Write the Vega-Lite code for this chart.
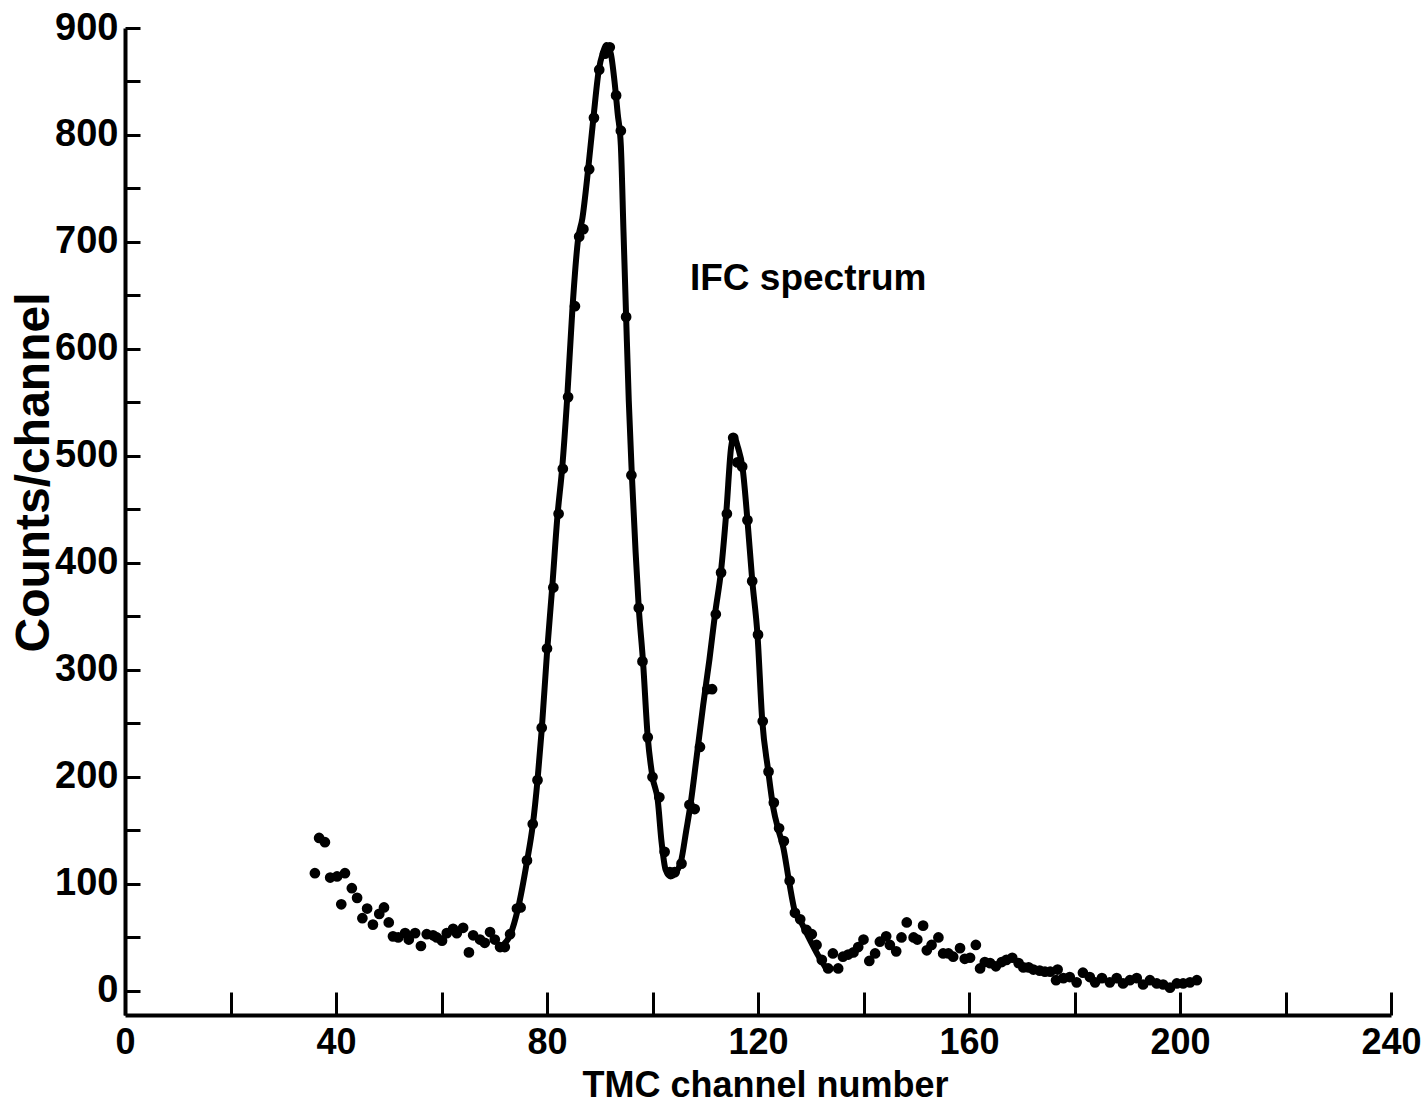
{
  "$schema": "https://vega.github.io/schema/vega-lite/v6.json",
  "width": 1266,
  "height": 987,
  "autosize": {"type": "none"},
  "padding": {"left": 125, "top": 28, "right": 36, "bottom": 89},
  "background": "white",
  "config": {
    "view": {"stroke": null},
    "axis": {
      "grid": false,
      "domainColor": "black",
      "domainWidth": 4,
      "tickColor": "black",
      "tickWidth": 3,
      "labelColor": "black",
      "titleColor": "black",
      "labelFont": "Liberation Sans",
      "titleFont": "Liberation Sans",
      "labelFontWeight": "bold",
      "titleFontWeight": "bold",
      "labelFlush": false,
      "labelOverlap": false
    }
  },
  "datasets": {
    "points": [
      {"channel": 36.0, "counts": 110}, {"channel": 36.8, "counts": 143}, {"channel": 37.9, "counts": 139}, {"channel": 38.9, "counts": 106},
      {"channel": 40.2, "counts": 107}, {"channel": 41.0, "counts": 81}, {"channel": 41.7, "counts": 110}, {"channel": 43.0, "counts": 96},
      {"channel": 44.0, "counts": 87}, {"channel": 45.0, "counts": 68}, {"channel": 45.9, "counts": 77}, {"channel": 47.0, "counts": 62},
      {"channel": 48.2, "counts": 72}, {"channel": 49.1, "counts": 78}, {"channel": 50.0, "counts": 64}, {"channel": 50.8, "counts": 51},
      {"channel": 51.8, "counts": 50}, {"channel": 53.1, "counts": 54}, {"channel": 53.8, "counts": 48}, {"channel": 55.0, "counts": 54},
      {"channel": 56.1, "counts": 42}, {"channel": 57.2, "counts": 53}, {"channel": 58.4, "counts": 52}, {"channel": 59.1, "counts": 50},
      {"channel": 60.1, "counts": 47}, {"channel": 61.0, "counts": 54}, {"channel": 62.2, "counts": 58}, {"channel": 62.9, "counts": 54},
      {"channel": 64.1, "counts": 59}, {"channel": 65.2, "counts": 36}, {"channel": 66.0, "counts": 52}, {"channel": 67.3, "counts": 48},
      {"channel": 68.2, "counts": 45}, {"channel": 69.2, "counts": 55}, {"channel": 70.1, "counts": 48}, {"channel": 71.1, "counts": 41},
      {"channel": 72.0, "counts": 41}, {"channel": 73.0, "counts": 53}, {"channel": 74.3, "counts": 77}, {"channel": 75.0, "counts": 78},
      {"channel": 76.2, "counts": 122}, {"channel": 77.3, "counts": 156}, {"channel": 78.2, "counts": 197}, {"channel": 79.0, "counts": 246},
      {"channel": 80.0, "counts": 320}, {"channel": 81.2, "counts": 377}, {"channel": 82.2, "counts": 446}, {"channel": 83.0, "counts": 488},
      {"channel": 84.0, "counts": 555}, {"channel": 85.3, "counts": 640}, {"channel": 86.1, "counts": 705}, {"channel": 86.9, "counts": 712},
      {"channel": 88.0, "counts": 768}, {"channel": 88.9, "counts": 816}, {"channel": 89.9, "counts": 861}, {"channel": 91.0, "counts": 876},
      {"channel": 91.9, "counts": 882}, {"channel": 93.1, "counts": 837}, {"channel": 94.0, "counts": 804}, {"channel": 95.0, "counts": 630},
      {"channel": 96.0, "counts": 482}, {"channel": 97.4, "counts": 358}, {"channel": 98.1, "counts": 308}, {"channel": 99.1, "counts": 237},
      {"channel": 100.0, "counts": 200}, {"channel": 101.3, "counts": 181}, {"channel": 102.3, "counts": 130}, {"channel": 103.3, "counts": 111},
      {"channel": 104.2, "counts": 111}, {"channel": 105.5, "counts": 119}, {"channel": 107.0, "counts": 174}, {"channel": 108.0, "counts": 170},
      {"channel": 109.0, "counts": 228}, {"channel": 110.4, "counts": 282}, {"channel": 111.3, "counts": 282}, {"channel": 112.0, "counts": 352},
      {"channel": 113.0, "counts": 391}, {"channel": 114.1, "counts": 446}, {"channel": 115.3, "counts": 517}, {"channel": 116.1, "counts": 494},
      {"channel": 117.0, "counts": 490}, {"channel": 118.0, "counts": 440}, {"channel": 118.9, "counts": 383}, {"channel": 120.0, "counts": 333},
      {"channel": 120.9, "counts": 252}, {"channel": 122.0, "counts": 205}, {"channel": 123.0, "counts": 176}, {"channel": 124.0, "counts": 152},
      {"channel": 124.9, "counts": 140}, {"channel": 126.0, "counts": 103}, {"channel": 127.0, "counts": 73}, {"channel": 128.0, "counts": 67},
      {"channel": 129.2, "counts": 57}, {"channel": 130.2, "counts": 53}, {"channel": 131.1, "counts": 43}, {"channel": 132.1, "counts": 29},
      {"channel": 133.3, "counts": 21}, {"channel": 134.2, "counts": 35}, {"channel": 135.2, "counts": 21}, {"channel": 136.1, "counts": 32},
      {"channel": 137.1, "counts": 34}, {"channel": 138.1, "counts": 36}, {"channel": 139.0, "counts": 41}, {"channel": 140.0, "counts": 48},
      {"channel": 141.1, "counts": 28}, {"channel": 142.2, "counts": 35}, {"channel": 143.1, "counts": 46}, {"channel": 144.3, "counts": 51},
      {"channel": 145.0, "counts": 43}, {"channel": 146.2, "counts": 37}, {"channel": 147.2, "counts": 50}, {"channel": 148.2, "counts": 64},
      {"channel": 149.5, "counts": 50}, {"channel": 150.2, "counts": 48}, {"channel": 151.3, "counts": 61}, {"channel": 152.0, "counts": 38},
      {"channel": 152.9, "counts": 43}, {"channel": 154.2, "counts": 50}, {"channel": 155.1, "counts": 35}, {"channel": 156.1, "counts": 35},
      {"channel": 157.0, "counts": 32}, {"channel": 158.3, "counts": 40}, {"channel": 159.2, "counts": 30}, {"channel": 160.2, "counts": 31},
      {"channel": 161.3, "counts": 43}, {"channel": 162.1, "counts": 21}, {"channel": 163.0, "counts": 27}, {"channel": 164.0, "counts": 26},
      {"channel": 165.1, "counts": 23}, {"channel": 166.2, "counts": 27}, {"channel": 167.1, "counts": 29}, {"channel": 168.2, "counts": 31},
      {"channel": 169.4, "counts": 26}, {"channel": 170.3, "counts": 22}, {"channel": 171.3, "counts": 22}, {"channel": 172.2, "counts": 20},
      {"channel": 173.4, "counts": 19}, {"channel": 174.4, "counts": 18}, {"channel": 175.4, "counts": 18}, {"channel": 176.5, "counts": 10},
      {"channel": 176.8, "counts": 20}, {"channel": 177.9, "counts": 12}, {"channel": 179.1, "counts": 13}, {"channel": 180.4, "counts": 8},
      {"channel": 181.6, "counts": 17}, {"channel": 182.9, "counts": 13}, {"channel": 183.9, "counts": 8}, {"channel": 185.2, "counts": 12},
      {"channel": 186.7, "counts": 8}, {"channel": 188.0, "counts": 12}, {"channel": 189.2, "counts": 7}, {"channel": 190.5, "counts": 10},
      {"channel": 191.8, "counts": 12}, {"channel": 193.0, "counts": 6}, {"channel": 194.3, "counts": 10}, {"channel": 195.6, "counts": 7},
      {"channel": 196.8, "counts": 6}, {"channel": 198.1, "counts": 3}, {"channel": 199.4, "counts": 7}, {"channel": 200.6, "counts": 7},
      {"channel": 201.9, "counts": 8}, {"channel": 203.2, "counts": 10}
    ],
    "curve": [
      {"channel": 71.7, "counts": 43}, {"channel": 73.0, "counts": 52}, {"channel": 74.5, "counts": 77}, {"channel": 76.2, "counts": 121},
      {"channel": 77.3, "counts": 155}, {"channel": 78.2, "counts": 197}, {"channel": 79.0, "counts": 244}, {"channel": 80.0, "counts": 316},
      {"channel": 81.0, "counts": 378}, {"channel": 82.0, "counts": 445}, {"channel": 82.9, "counts": 490}, {"channel": 83.8, "counts": 552},
      {"channel": 84.8, "counts": 636}, {"channel": 85.9, "counts": 703}, {"channel": 86.7, "counts": 722}, {"channel": 87.8, "counts": 768},
      {"channel": 88.8, "counts": 816}, {"channel": 89.8, "counts": 860}, {"channel": 90.6, "counts": 877}, {"channel": 91.3, "counts": 884},
      {"channel": 92.1, "counts": 876}, {"channel": 92.8, "counts": 850}, {"channel": 93.4, "counts": 820}, {"channel": 94.0, "counts": 790},
      {"channel": 94.5, "counts": 710}, {"channel": 95.0, "counts": 630}, {"channel": 95.5, "counts": 552}, {"channel": 96.1, "counts": 481},
      {"channel": 96.8, "counts": 410}, {"channel": 97.4, "counts": 358}, {"channel": 98.2, "counts": 308}, {"channel": 99.1, "counts": 237},
      {"channel": 100.0, "counts": 200}, {"channel": 101.0, "counts": 178}, {"channel": 101.7, "counts": 140}, {"channel": 102.5, "counts": 113},
      {"channel": 103.4, "counts": 107}, {"channel": 104.5, "counts": 111}, {"channel": 105.4, "counts": 121}, {"channel": 106.4, "counts": 150},
      {"channel": 107.2, "counts": 174}, {"channel": 108.3, "counts": 216}, {"channel": 109.6, "counts": 267}, {"channel": 110.8, "counts": 310},
      {"channel": 111.9, "counts": 354}, {"channel": 113.0, "counts": 393}, {"channel": 114.0, "counts": 448}, {"channel": 114.9, "counts": 508},
      {"channel": 115.4, "counts": 518}, {"channel": 116.2, "counts": 508}, {"channel": 117.1, "counts": 488}, {"channel": 118.0, "counts": 440},
      {"channel": 118.9, "counts": 384}, {"channel": 119.9, "counts": 333}, {"channel": 120.8, "counts": 253}, {"channel": 121.9, "counts": 207},
      {"channel": 122.9, "counts": 171}, {"channel": 123.9, "counts": 150}, {"channel": 124.8, "counts": 134}, {"channel": 125.9, "counts": 102},
      {"channel": 127.0, "counts": 74}, {"channel": 128.2, "counts": 64}, {"channel": 129.7, "counts": 49}, {"channel": 131.3, "counts": 34},
      {"channel": 132.8, "counts": 22}
    ],
    "note": [
      {"channel": 107.1, "counts": 655, "label": "IFC spectrum"}
    ]
  },
  "encoding": {
    "x": {
      "field": "channel",
      "type": "quantitative",
      "scale": {"domain": [0, 240], "nice": false, "zero": false},
      "axis": {
        "title": "TMC channel number",
        "values": [0, 20, 40, 60, 80, 100, 120, 140, 160, 180, 200, 220, 240],
        "labelExpr": "datum.value % 40 == 0 ? datum.label : ''",
        "tickSize": -23,
        "labelPadding": 33,
        "labelFontSize": 36,
        "titleFontSize": 36,
        "titleBaseline": "alphabetic",
        "titleY": 81,
        "titleX": 640
      }
    },
    "y": {
      "field": "counts",
      "type": "quantitative",
      "scale": {"domain": [-22.5, 900], "nice": false, "zero": false},
      "axis": {
        "title": "Counts/channel",
        "values": [0, 50, 100, 150, 200, 250, 300, 350, 400, 450, 500, 550, 600, 650, 700, 750, 800, 850, 900],
        "labelExpr": "datum.value % 100 == 0 ? datum.label : ''",
        "tickSize": -15,
        "labelPadding": 22,
        "labelFontSize": 38,
        "labelBaseline": "middle",
        "titleFontSize": 48,
        "titleBaseline": "alphabetic",
        "titleAngle": -90,
        "titleAlign": "center",
        "titleX": -77,
        "titleY": 444
      }
    }
  },
  "layer": [
    {
      "data": {"name": "curve"},
      "mark": {"type": "line", "color": "black", "strokeWidth": 6, "interpolate": "monotone"}
    },
    {
      "data": {"name": "points"},
      "mark": {"type": "circle", "color": "black", "opacity": 1, "size": 115}
    },
    {
      "data": {"name": "note"},
      "mark": {"type": "text", "align": "left", "baseline": "alphabetic", "font": "Liberation Sans", "fontWeight": "bold", "fontSize": 37, "color": "black"},
      "encoding": {"text": {"field": "label"}}
    }
  ]
}
